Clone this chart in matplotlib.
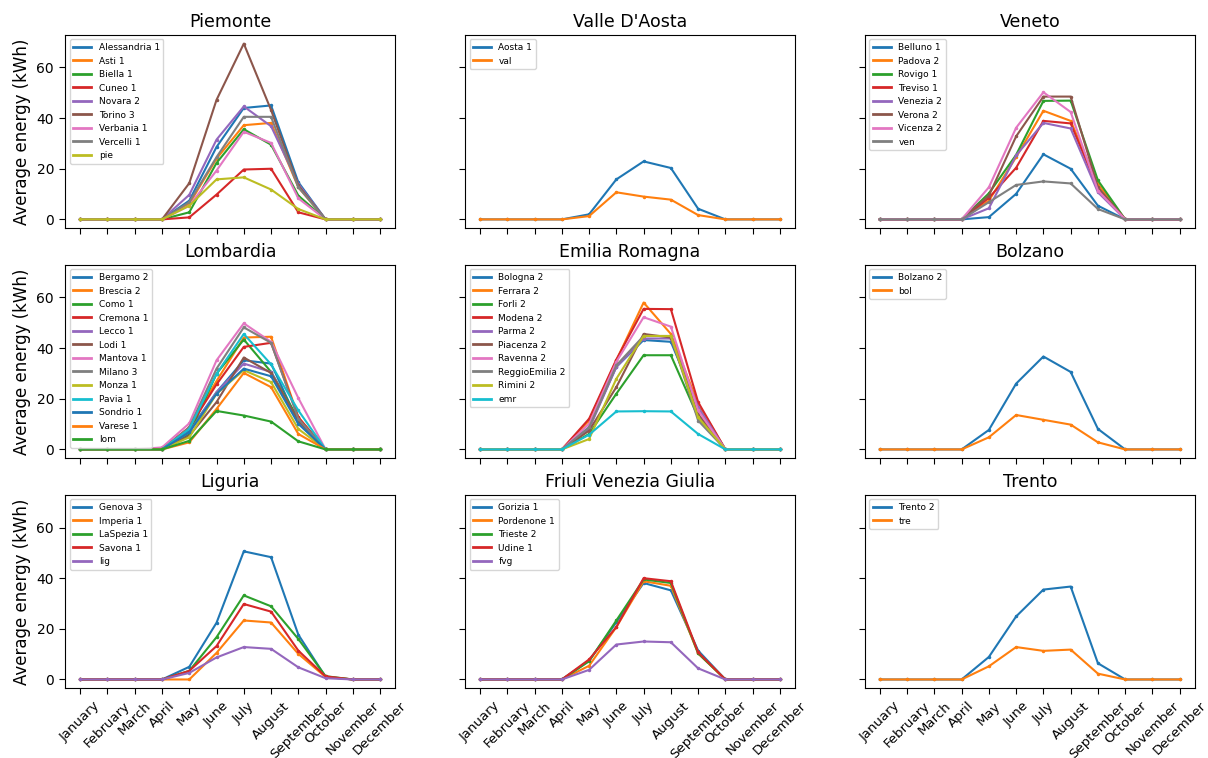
import numpy as np
from matplotlib import pyplot as plt

months = ['January', 'February', 'March', 'April', 'May', 'June', 'July',
          'August', 'September', 'October', 'November', 'December']

# monthly average energy per installation (kWh), Jan..Dec
piemonte_names = ['Alessandria 1', 'Asti 1', 'Biella 1', 'Cuneo 1', 'Novara 2',
                  'Torino 3', 'Verbania 1', 'Vercelli 1', 'pie']
piemonte = [
    [0, 0, 0, 0, 7.4, 28.6, 44.0, 45.0, 14.7, 0, 0, 0],
    [0, 0, 0, 0, 6.1, 24.0, 37.2, 38.1, 12.7, 0, 0, 0],
    [0, 0, 0, 0, 2.8, 22.3, 35.6, 29.5, 9.4, 0, 0, 0],
    [0, 0, 0, 0, 0.8, 9.8, 19.7, 20.0, 2.8, 0, 0, 0],
    [0, 0, 0, 0, 9.7, 31.5, 44.6, 36.8, 14.0, 0, 0, 0],
    [0, 0, 0, 0, 14.3, 47.2, 69.4, 43.2, 13.4, 0, 0, 0],
    [0, 0, 0, 0, 5.4, 19.3, 34.6, 30.2, 8.3, 0, 0, 0],
    [0, 0, 0, 0, 6.8, 24.6, 40.5, 40.5, 12.7, 0, 0, 0],
    [0, 0, 0, 0, 5.4, 15.8, 16.6, 11.8, 4.1, 0, 0, 0],
]

aosta_names = ['Aosta 1', 'val']
aosta = [
    [0, 0, 0, 0, 2.0, 15.8, 22.9, 20.3, 4.2, 0, 0, 0],
    [0, 0, 0, 0, 1.3, 10.7, 9.0, 7.8, 1.7, 0, 0, 0],
]

veneto_names = ['Belluno 1', 'Padova 2', 'Rovigo 1', 'Treviso 1', 'Venezia 2',
                'Verona 2', 'Vicenza 2', 'ven']
veneto = [
    [0, 0, 0, 0, 0.9, 10.1, 25.7, 20.0, 5.4, 0, 0, 0],
    [0, 0, 0, 0, 7.4, 24.6, 42.9, 38.9, 14.0, 0, 0, 0],
    [0, 0, 0, 0, 10.3, 25.5, 46.8, 46.9, 15.4, 0, 0, 0],
    [0, 0, 0, 0, 8.5, 20.4, 38.9, 37.9, 12.1, 0, 0, 0],
    [0, 0, 0, 0, 4.4, 25.3, 38.1, 35.9, 10.7, 0, 0, 0],
    [0, 0, 0, 0, 9.4, 32.8, 48.5, 48.5, 12.7, 0, 0, 0],
    [0, 0, 0, 0, 12.7, 36.2, 50.2, 42.4, 11.4, 0, 0, 0],
    [0, 0, 0, 0, 6.8, 13.6, 15.0, 14.2, 4.1, 0, 0, 0],
]

lombardia_names = ['Bergamo 2', 'Brescia 2', 'Como 1', 'Cremona 1', 'Lecco 1',
                   'Lodi 1', 'Mantova 1', 'Milano 3', 'Monza 1', 'Pavia 1',
                   'Sondrio 1', 'Varese 1', 'lom']
lombardia = [
    [0, 0, 0, 0, 7.4, 22.6, 35.2, 33.9, 10.7, 0, 0, 0],
    [0, 0, 0, 0, 8.7, 27.0, 44.2, 44.5, 12.7, 0, 0, 0],
    [0, 0, 0, 0, 6.1, 29.9, 43.4, 30.6, 12.1, 0, 0, 0],
    [0, 0, 0, 0, 8.7, 25.7, 40.5, 42.1, 12.7, 0, 0, 0],
    [0, 0, 0, 0, 6.8, 22.6, 33.9, 30.6, 10.7, 0, 0, 0],
    [0, 0, 0, 0, 5.4, 18.7, 36.3, 30.2, 11.4, 0, 0, 0],
    [0, 0, 0, 0.8, 10.3, 35.2, 49.8, 42.5, 20.3, 0, 0, 0],
    [0, 0, 0, 0, 8.7, 31.9, 48.2, 42.1, 12.1, 0, 0, 0],
    [0, 0, 0, 0, 4.8, 22.0, 31.3, 26.6, 8.1, 0, 0, 0],
    [0, 0, 0, 0, 8.1, 29.9, 45.6, 33.6, 15.4, 0, 0, 0],
    [0, 0, 0, 0, 6.8, 22.0, 31.9, 28.9, 10.1, 0, 0, 0],
    [0, 0, 0, 0, 2.8, 16.0, 30.2, 24.6, 6.1, 0, 0, 0],
    [0, 0, 0, 0, 3.4, 15.2, 13.4, 11.0, 3.2, 0, 0, 0],
]

emilia_names = ['Bologna 2', 'Ferrara 2', 'Forli 2', 'Modena 2', 'Parma 2',
                'Piacenza 2', 'Ravenna 2', 'ReggioEmilia 2', 'Rimini 2', 'emr']
emilia = [
    [0, 0, 0, 0, 8.7, 32.6, 43.2, 42.5, 16.7, 0, 0, 0],
    [0, 0, 0, 0, 11.4, 35.2, 58.0, 45.6, 18.0, 0, 0, 0],
    [0, 0, 0, 0, 6.1, 22.0, 37.2, 37.2, 12.7, 0, 0, 0],
    [0, 0, 0, 0, 12.1, 35.5, 55.5, 55.4, 18.7, 0, 0, 0],
    [0, 0, 0, 0, 8.1, 32.6, 43.8, 43.8, 16.7, 0, 0, 0],
    [0, 0, 0, 0, 7.4, 24.6, 45.6, 44.2, 14.0, 0, 0, 0],
    [0, 0, 0, 0, 10.1, 34.6, 52.2, 48.5, 15.4, 0, 0, 0],
    [0, 0, 0, 0, 8.7, 33.2, 44.8, 44.8, 11.4, 0, 0, 0],
    [0, 0, 0, 0, 4.1, 27.9, 44.8, 44.8, 12.7, 0, 0, 0],
    [0, 0, 0, 0, 5.8, 15.0, 15.1, 15.0, 6.1, 0, 0, 0],
]

bolzano_names = ['Bolzano 2', 'bol']
bolzano = [
    [0, 0, 0, 0, 7.7, 26.0, 36.7, 30.6, 8.1, 0, 0, 0],
    [0, 0, 0, 0, 4.8, 13.6, 11.7, 9.8, 2.8, 0, 0, 0],
]

liguria_names = ['Genova 3', 'Imperia 1', 'LaSpezia 1', 'Savona 1', 'lig']
liguria = [
    [0, 0, 0, 0, 5.0, 22.4, 50.6, 48.3, 17.7, 1.0, 0, 0],
    [0, 0, 0, 0, 0.0, 10.5, 23.3, 22.5, 10.1, 1.0, 0, 0],
    [0, 0, 0, 0, 3.4, 16.7, 33.2, 28.9, 16.0, 1.3, 0, 0],
    [0, 0, 0, 0, 3.4, 13.2, 29.8, 26.8, 11.4, 1.2, 0, 0],
    [0, 0, 0, 0, 2.6, 8.7, 12.8, 12.1, 4.8, 0.5, 0, 0],
]

fvg_names = ['Gorizia 1', 'Pordenone 1', 'Trieste 2', 'Udine 1', 'fvg']
fvg = [
    [0, 0, 0, 0, 7.4, 22.6, 38.1, 35.2, 11.4, 0, 0, 0],
    [0, 0, 0, 0, 5.4, 20.7, 38.8, 37.0, 10.3, 0, 0, 0],
    [0, 0, 0, 0, 7.2, 23.3, 39.5, 38.1, 10.3, 0, 0, 0],
    [0, 0, 0, 0, 7.9, 20.7, 40.0, 38.8, 10.7, 0, 0, 0],
    [0, 0, 0, 0, 3.8, 13.8, 15.0, 14.7, 4.4, 0, 0, 0],
]

trento_names = ['Trento 2', 'tre']
trento = [
    [0, 0, 0, 0, 8.9, 24.9, 35.5, 36.7, 6.4, 0, 0, 0],
    [0, 0, 0, 0, 5.2, 12.8, 11.3, 11.8, 2.3, 0, 0, 0],
]

regions = [
    ('Piemonte', piemonte_names, piemonte),
    ("Valle D'Aosta", aosta_names, aosta),
    ('Veneto', veneto_names, veneto),
    ('Lombardia', lombardia_names, lombardia),
    ('Emilia Romagna', emilia_names, emilia),
    ('Bolzano', bolzano_names, bolzano),
    ('Liguria', liguria_names, liguria),
    ('Friuli Venezia Giulia', fvg_names, fvg),
    ('Trento', trento_names, trento),
]

x = np.arange(len(months))

fig, axs = plt.subplots(3, 3, figsize=(12.08, 7.58), dpi=100, sharex=True, sharey=True)
plt.subplots_adjust(left=0.054, right=0.989, top=0.954, bottom=0.092,
                    wspace=0.212, hspace=0.19)

for ax, (title, names, values) in zip(axs.flat, regions):
    for name, vals in zip(names, values):
        ax.plot(x, vals, marker='.', markersize=3, label=name)
    ax.set_title(title, fontsize=12.5)
    leg = ax.legend(loc='upper left', fontsize=6.5)
    # plain line handles in the legend, no dots
    for line in leg.get_lines():
        line.set_marker('None')
        line.set_linewidth(2)
    ax.tick_params(labelsize=10, length=4.5)

for ax in axs[:, 0]:
    ax.set_ylabel('Average energy (kWh)', fontsize=12)

for ax in axs[-1, :]:
    ax.set_xticks(x)
    ax.set_xticklabels(months, rotation=45, fontsize=9.5)

axs[0, 0].set_yticks([0, 20, 40, 60])

plt.savefig('out.png')
